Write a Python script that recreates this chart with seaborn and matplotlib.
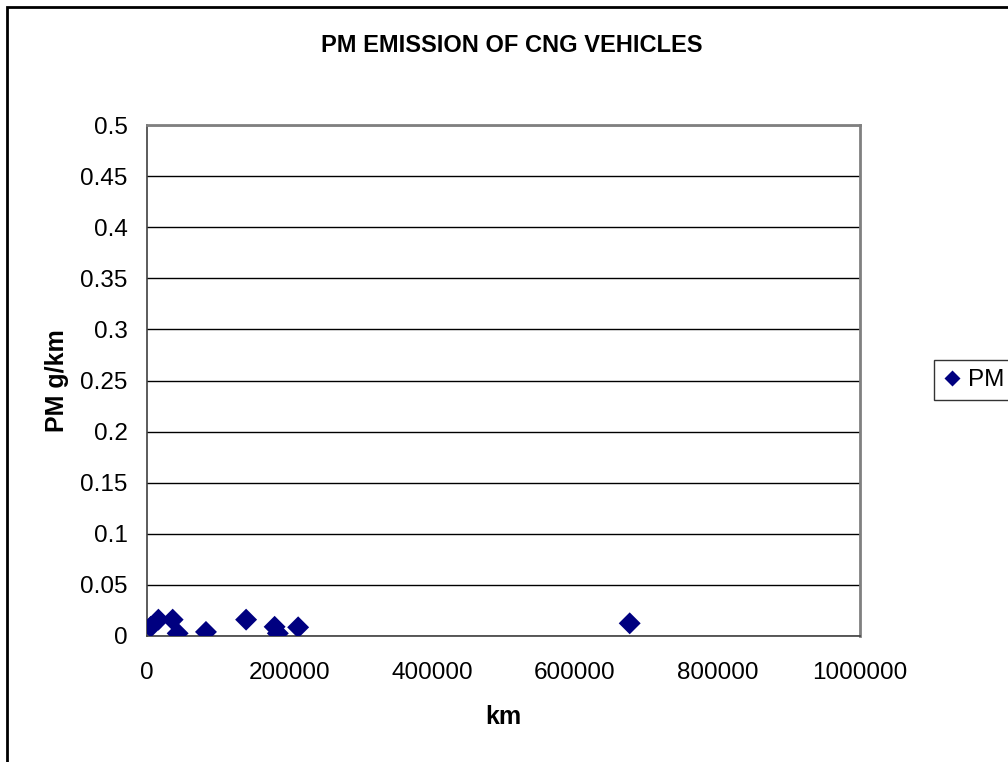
#!/usr/bin/env python3
"""
    PM emission of CNG vehicles — scatter of PM g/km against km
"""
import matplotlib
matplotlib.use("Agg")
import matplotlib.pyplot as plt
import seaborn as sns
import pandas as pd
from matplotlib.patches import Rectangle
from matplotlib.ticker import FuncFormatter

# --- data ---
km = [5200, 16000, 36000, 43000, 82700, 139000, 179000, 183500, 212000, 677000]
pm = [0.009, 0.016, 0.016, 0.0026, 0.004, 0.016, 0.009, 0.0026, 0.0085, 0.0124]
series = "PM"

x_ticks = [0, 200000, 400000, 600000, 800000, 1000000]
y_ticks = [0, 0.05, 0.1, 0.15, 0.2, 0.25, 0.3, 0.35, 0.4, 0.45, 0.5]

df = pd.DataFrame({"km": km, "pm": pm, "series": series})

sns.set_style("white")
plt.rcParams["font.family"] = ["Liberation Sans", "DejaVu Sans"]
plt.rcParams["text.color"] = "black"
plt.rcParams["axes.labelcolor"] = "black"
plt.rcParams["xtick.color"] = "black"
plt.rcParams["ytick.color"] = "black"

W, H = 1008, 762
fig = plt.figure(figsize=(W / 100, H / 100), dpi=100)
ax = fig.add_axes([147 / W, 1 - 636 / H, (860 - 147) / W, (636 - 125) / H])

sns.scatterplot(data=df, x="km", y="pm", hue="series", palette=["#000080"],
                marker="D", s=125, edgecolor="none", ax=ax, zorder=3)

ax.set_xlim(0, 1000000)
ax.set_ylim(0, 0.5)
ax.set_xticks(x_ticks)
ax.set_yticks(y_ticks)
ax.xaxis.set_major_formatter(FuncFormatter(lambda v, p: f"{int(v)}"))
ax.yaxis.set_major_formatter(FuncFormatter(lambda v, p: f"{v:g}"))
ax.tick_params(axis="both", labelsize=17.5, direction="out", length=6,
               width=1, color="#404040", pad=8)
ax.tick_params(axis="x", pad=13)

ax.yaxis.grid(True, color="black", linewidth=1)
ax.set_axisbelow(True)
for side in ["top", "right"]:
    ax.spines[side].set_color("#808080")
    ax.spines[side].set_linewidth(2)
for side in ["left", "bottom"]:
    ax.spines[side].set_color("#404040")
    ax.spines[side].set_linewidth(1.2)

ax.set_xlabel("km", fontsize=18, fontweight="bold", labelpad=15)
ax.set_ylabel("PM g/km", fontsize=18, fontweight="bold", labelpad=8)
fig.text(512 / W, 1 - 45 / H, "PM EMISSION OF CNG VEHICLES", ha="center",
         va="center", fontsize=17, fontweight="bold")

# legend outside the plot area, clipped by the right edge
ax.legend(loc="center left", bbox_to_anchor=(934 / W, 1 - 380 / H),
          bbox_transform=fig.transFigure, fontsize=17.5, frameon=True,
          fancybox=False, edgecolor="black", handletextpad=0.25,
          handlelength=0.8, borderpad=0.35, borderaxespad=0,
          markerscale=0.7)
ax.get_legend().get_frame().set_linewidth(1)

# chart border
fig.patches.append(Rectangle((7 / W, -0.1), 1.2, (1 - 7 / H) + 0.1,
                             transform=fig.transFigure, fill=False,
                             edgecolor="black", linewidth=2))

fig.savefig("out.png", dpi=100)
